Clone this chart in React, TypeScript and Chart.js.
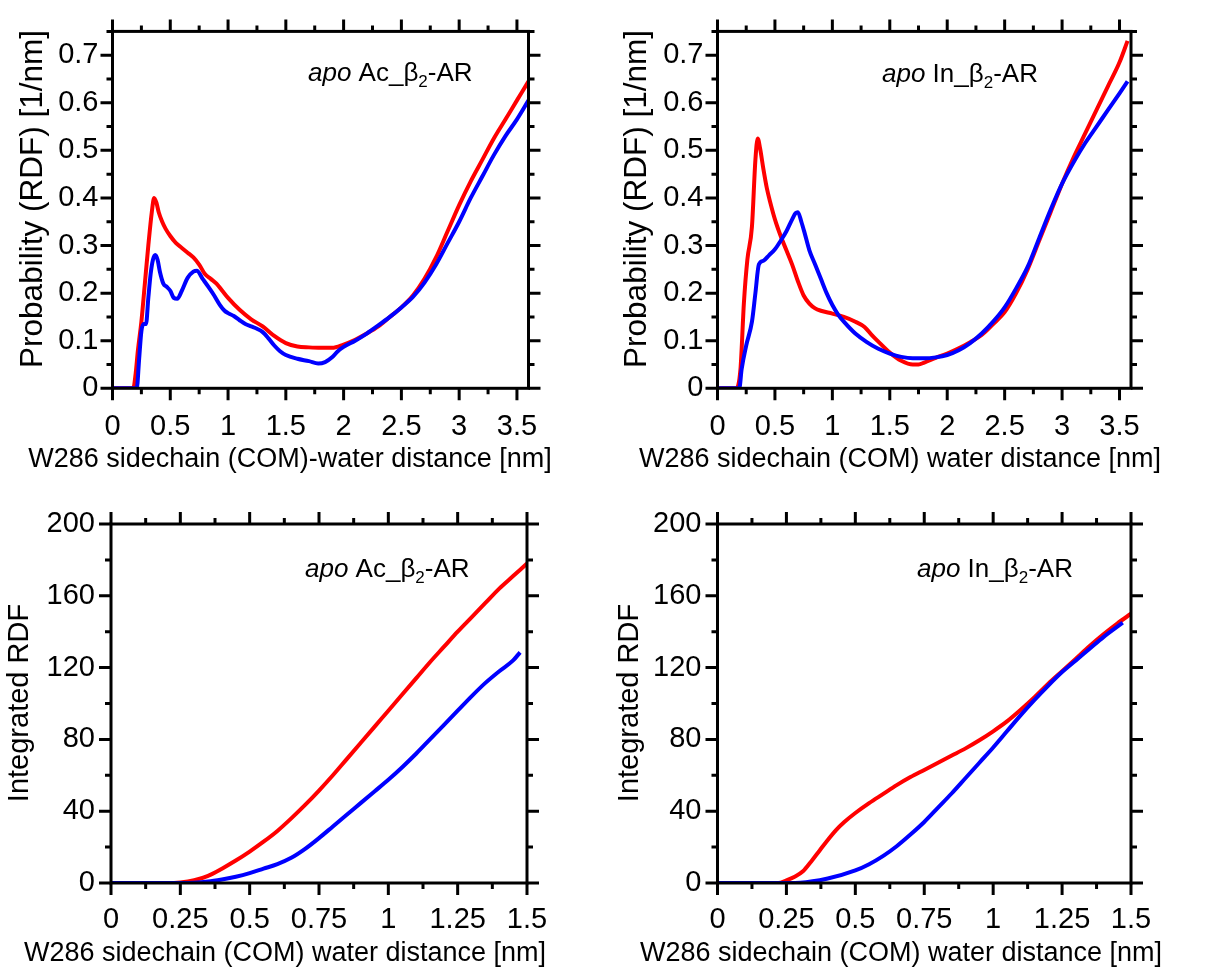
import React, { useEffect, useRef } from "react";
import { Chart, registerables } from "chart.js";

Chart.register(...registerables);

const FONT = "'Liberation Sans', Arial, Helvetica, sans-serif";

// ---------- tick values / labels ----------
const rdfXTicks = [0, 0.5, 1, 1.5, 2, 2.5, 3, 3.5];
const rdfXTickLabels = ["0", "0.5", "1", "1.5", "2", "2.5", "3", "3.5"];
const rdfXMinor = [0.25, 0.75, 1.25, 1.75, 2.25, 2.75, 3.25];
const rdfYTicks = [0, 0.1, 0.2, 0.3, 0.4, 0.5, 0.6, 0.7];
const rdfYTickLabels = ["0", "0.1", "0.2", "0.3", "0.4", "0.5", "0.6", "0.7"];
const rdfYMinor = [0.05, 0.15, 0.25, 0.35, 0.45, 0.55, 0.65, 0.75];

const intXTicks = [0, 0.25, 0.5, 0.75, 1, 1.25, 1.5];
const intXTickLabels = ["0", "0.25", "0.5", "0.75", "1", "1.25", "1.5"];
const intXMinor = [0.125, 0.375, 0.625, 0.875, 1.125, 1.375];
const intYTicks = [0, 40, 80, 120, 160, 200];
const intYTickLabels = ["0", "40", "80", "120", "160", "200"];
const intYMinor = [20, 60, 100, 140, 180];

// ---------- data: RDF, apo Ac_β2-AR ----------
const rdfAcRedX = [0, 0.1, 0.18, 0.2, 0.22, 0.25, 0.28, 0.31, 0.34, 0.36, 0.38, 0.4, 0.43, 0.46, 0.5, 0.55, 0.6, 0.65, 0.7, 0.75, 0.8, 0.85, 0.9, 0.95, 1.0, 1.1, 1.2, 1.3, 1.4, 1.5, 1.6, 1.7, 1.8, 1.9, 2.0, 2.1, 2.2, 2.3, 2.4, 2.5, 2.6, 2.7, 2.8, 2.9, 3.0, 3.1, 3.2, 3.3, 3.4, 3.5, 3.6];
const rdfAcRedY = [0, 0, 0, 0.03, 0.08, 0.14, 0.22, 0.3, 0.37, 0.4, 0.39, 0.37, 0.35, 0.335, 0.32, 0.305, 0.295, 0.285, 0.275, 0.26, 0.24, 0.23, 0.22, 0.205, 0.19, 0.165, 0.145, 0.13, 0.11, 0.095, 0.088, 0.086, 0.085, 0.085, 0.092, 0.102, 0.115, 0.13, 0.15, 0.17, 0.195, 0.23, 0.275, 0.33, 0.385, 0.435, 0.48, 0.525, 0.565, 0.605, 0.645];
const rdfAcBlueX = [0, 0.1, 0.21, 0.23, 0.25, 0.27, 0.29, 0.31, 0.33, 0.35, 0.37, 0.39, 0.41, 0.44, 0.47, 0.5, 0.53, 0.56, 0.6, 0.65, 0.7, 0.73, 0.78, 0.83, 0.88, 0.93, 0.97, 1.0, 1.05, 1.1, 1.15, 1.2, 1.25, 1.3, 1.35, 1.4, 1.45, 1.5, 1.6, 1.7, 1.78, 1.84, 1.9, 1.95, 2.0, 2.1, 2.2, 2.3, 2.4, 2.5, 2.6, 2.7, 2.8, 2.9, 3.0, 3.1, 3.2, 3.3, 3.4, 3.5, 3.6];
const rdfAcBlueY = [0, 0, 0, 0.06, 0.12, 0.135, 0.135, 0.19, 0.24, 0.27, 0.28, 0.27, 0.245, 0.22, 0.213, 0.205, 0.19, 0.188, 0.205, 0.232, 0.245, 0.247, 0.23, 0.213, 0.195, 0.175, 0.163, 0.158, 0.152, 0.143, 0.135, 0.13, 0.125, 0.118, 0.105, 0.09, 0.078, 0.07, 0.062, 0.057, 0.052, 0.055, 0.065, 0.078, 0.087, 0.1, 0.115, 0.132, 0.15, 0.17, 0.192, 0.222, 0.26, 0.305, 0.35, 0.4, 0.445, 0.49, 0.53, 0.565, 0.605];

// ---------- data: RDF, apo In_β2-AR ----------
const rdfInRedX = [0, 0.1, 0.16, 0.2, 0.23, 0.26, 0.3, 0.33, 0.35, 0.37, 0.4, 0.43, 0.46, 0.5, 0.55, 0.6, 0.65, 0.7, 0.75, 0.8, 0.85, 0.9, 1.0, 1.1, 1.2, 1.28, 1.35, 1.4, 1.5, 1.6, 1.7, 1.75, 1.8, 1.9, 2.0, 2.1, 2.2, 2.3, 2.4, 2.5, 2.6, 2.7, 2.8, 2.9, 3.0, 3.1, 3.2, 3.3, 3.4, 3.5, 3.57];
const rdfInRedY = [0, 0, 0, 0.04, 0.18, 0.27, 0.34, 0.48, 0.525, 0.505, 0.46, 0.42, 0.39, 0.355, 0.32, 0.29, 0.26, 0.225, 0.195, 0.178, 0.168, 0.163, 0.157, 0.15, 0.14, 0.129, 0.11, 0.098, 0.075, 0.058, 0.05, 0.05, 0.054, 0.064, 0.073, 0.084, 0.097, 0.112, 0.135, 0.16, 0.2, 0.25, 0.31, 0.37, 0.43, 0.485, 0.535, 0.585, 0.635, 0.685, 0.73];
const rdfInBlueX = [0, 0.1, 0.19, 0.21, 0.25, 0.3, 0.33, 0.36, 0.4, 0.45, 0.5, 0.55, 0.6, 0.65, 0.68, 0.7, 0.73, 0.76, 0.8, 0.85, 0.9, 0.95, 1.0, 1.05, 1.1, 1.2, 1.3, 1.4, 1.5, 1.6, 1.7, 1.8, 1.9, 2.0, 2.1, 2.2, 2.3, 2.4, 2.5, 2.6, 2.7, 2.8, 2.9, 3.0, 3.1, 3.2, 3.3, 3.4, 3.5, 3.57];
const rdfInBlueY = [0, 0, 0, 0.04, 0.09, 0.14, 0.2, 0.26, 0.268, 0.28, 0.292, 0.31, 0.33, 0.355, 0.368, 0.37, 0.35, 0.325, 0.29, 0.26, 0.23, 0.2, 0.175, 0.155, 0.14, 0.115, 0.097, 0.083, 0.073, 0.066, 0.063, 0.063, 0.065, 0.07, 0.08, 0.095, 0.115, 0.14, 0.17, 0.21, 0.255, 0.315, 0.375, 0.43, 0.475, 0.515, 0.55, 0.585, 0.62, 0.645];

// ---------- data: integrated RDF, apo Ac_β2-AR ----------
const intAcRedX = [0, 0.1, 0.2, 0.25, 0.3, 0.35, 0.4, 0.45, 0.5, 0.55, 0.6, 0.65, 0.7, 0.75, 0.8, 0.85, 0.9, 0.95, 1.0, 1.05, 1.1, 1.15, 1.2, 1.25, 1.3, 1.35, 1.4, 1.45, 1.5];
const intAcRedY = [0, 0, 0, 0.3, 1.5, 4, 8, 12.5, 17.5, 23, 29, 36, 43.5, 51.5, 60, 69, 78, 87, 96, 105, 114, 123, 131.5, 140, 148, 156, 164, 171, 178];
const intAcBlueX = [0, 0.1, 0.2, 0.3, 0.35, 0.4, 0.45, 0.5, 0.55, 0.6, 0.65, 0.7, 0.75, 0.8, 0.85, 0.9, 0.95, 1.0, 1.05, 1.1, 1.15, 1.2, 1.25, 1.3, 1.35, 1.4, 1.45, 1.475];
const intAcBlueY = [0, 0, 0, 0.2, 0.8, 2, 3.5, 5.5, 8, 10.5, 14, 19, 25, 31.5, 38, 44.5, 51, 57.5, 64.5, 72, 80, 88, 96, 104, 111.5, 118, 124, 128.5];

// ---------- data: integrated RDF, apo In_β2-AR ----------
const intInRedX = [0, 0.1, 0.22, 0.25, 0.28, 0.31, 0.34, 0.37, 0.4, 0.43, 0.46, 0.5, 0.55, 0.6, 0.65, 0.7, 0.75, 0.8, 0.85, 0.9, 0.95, 1.0, 1.05, 1.1, 1.15, 1.2, 1.25, 1.3, 1.35, 1.4, 1.45, 1.5];
const intInRedY = [0, 0, 0, 1.5, 3.5, 6.5, 12, 18, 24, 29.5, 34, 39, 44.5, 49.5, 54.5, 59, 63, 67, 71, 75, 79.5, 84.5, 90, 96.5, 103.5, 111, 118, 125, 132, 138.5, 144.5, 150];
const intInBlueX = [0, 0.1, 0.2, 0.3, 0.4, 0.5, 0.55, 0.6, 0.65, 0.7, 0.75, 0.8, 0.85, 0.9, 0.95, 1.0, 1.05, 1.1, 1.15, 1.2, 1.25, 1.3, 1.35, 1.4, 1.47];
const intInBlueY = [0, 0, 0, 0.2, 2.5, 7, 10.5, 15, 20.5, 27, 34, 42, 50, 58.5, 67, 75.5, 84.5, 93.5, 102, 110, 117.5, 124, 130.5, 137, 145];

const RED = "rgb(255,0,0)";
const BLUE = "rgb(0,0,255)";

type PanelSpec = {
  left: number;
  top: number;
  width: number;
  height: number;
  area: { l: number; r: number; t: number; b: number };
  xMax: number;
  yMax: number;
  xTicks: number[];
  xLabels: string[];
  xMinor: number[];
  yTicks: number[];
  yLabels: string[];
  yMinor: number[];
  xPad: number;
  yPad: number;
  xTitle: string;
  yTitle: string;
  xTitlePos: [number, number];
  yTitlePos: [number, number];
  yTitleSize: number;
  tag: string;
  tagPos: [number, number];
  red: [number[], number[]];
  blue: [number[], number[]];
};

const toPts = (xs: number[], ys: number[]) => xs.map((x, i) => ({ x, y: ys[i] }));

const framePlugin = {
  id: "frameTicks",
  afterDatasetsDraw(chart: any, _args: any, opts: any) {
    const { ctx, chartArea: a } = chart;
    const xs = chart.scales.x;
    const ys = chart.scales.y;
    ctx.save();
    ctx.strokeStyle = "#000";
    ctx.lineWidth = 3;
    ctx.lineCap = "butt";
    ctx.strokeRect(a.left, a.top, a.right - a.left, a.bottom - a.top);
    const drawX = (vals: number[], len: number) => {
      vals.forEach((v) => {
        const p = xs.getPixelForValue(v);
        ctx.beginPath();
        ctx.moveTo(p, a.bottom);
        ctx.lineTo(p, a.bottom + len);
        ctx.moveTo(p, a.top);
        ctx.lineTo(p, a.top - len);
        ctx.stroke();
      });
    };
    const drawY = (vals: number[], len: number) => {
      vals.forEach((v) => {
        const p = ys.getPixelForValue(v);
        ctx.beginPath();
        ctx.moveTo(a.left, p);
        ctx.lineTo(a.left - len, p);
        ctx.moveTo(a.right, p);
        ctx.lineTo(a.right + len, p);
        ctx.stroke();
      });
    };
    drawX(opts.xTicks, 12);
    drawX(opts.xMinor, 6);
    drawY(opts.yTicks, 12);
    drawY(opts.yMinor, 6);

    ctx.fillStyle = "#000";
    // x title
    ctx.font = `27px ${FONT}`;
    ctx.textAlign = "center";
    ctx.textBaseline = "alphabetic";
    ctx.fillText(opts.xTitle, opts.xTitlePos[0], opts.xTitlePos[1]);
    // y title
    ctx.save();
    ctx.translate(opts.yTitlePos[0], opts.yTitlePos[1]);
    ctx.rotate(-Math.PI / 2);
    ctx.font = `${opts.yTitleSize}px ${FONT}`;
    ctx.textAlign = "center";
    ctx.textBaseline = "middle";
    ctx.fillText(opts.yTitle, 0, 0);
    ctx.restore();

    // annotation: "apo Xx_β2-AR"
    let x = opts.tagPos[0];
    const y = opts.tagPos[1];
    ctx.textAlign = "left";
    ctx.textBaseline = "alphabetic";
    ctx.font = `italic 26px ${FONT}`;
    ctx.fillText("apo", x, y);
    x += ctx.measureText("apo ").width;
    ctx.font = `26px ${FONT}`;
    const s1 = `${opts.tag}_β`;
    ctx.fillText(s1, x, y);
    x += ctx.measureText(s1).width;
    ctx.font = `17px ${FONT}`;
    ctx.fillText("2", x, y + 6);
    x += ctx.measureText("2").width;
    ctx.font = `26px ${FONT}`;
    ctx.fillText("-AR", x, y);
    ctx.restore();
  },
};

function buildConfig(s: PanelSpec): any {
  const tickFont = { family: FONT, size: 29 };
  return {
    type: "scatter",
    data: {
      datasets: [
        {
          data: toPts(s.blue[0], s.blue[1]),
          borderColor: BLUE,
          borderWidth: 4,
          showLine: true,
          pointRadius: 0,
          cubicInterpolationMode: "monotone",
          order: 0,
        },
        {
          data: toPts(s.red[0], s.red[1]),
          borderColor: RED,
          borderWidth: 4,
          showLine: true,
          pointRadius: 0,
          cubicInterpolationMode: "monotone",
          order: 1,
        },
      ],
    },
    options: {
      responsive: false,
      animation: false,
      devicePixelRatio: 1,
      layout: {
        padding: { left: 0, top: s.area.t, right: s.width - s.area.r, bottom: 0 },
      },
      plugins: {
        legend: { display: false },
        tooltip: { enabled: false },
        frameTicks: {
          xTicks: s.xTicks,
          xMinor: s.xMinor,
          yTicks: s.yTicks,
          yMinor: s.yMinor,
          xTitle: s.xTitle,
          yTitle: s.yTitle,
          xTitlePos: s.xTitlePos,
          yTitlePos: s.yTitlePos,
          yTitleSize: s.yTitleSize,
          tag: s.tag,
          tagPos: s.tagPos,
        },
      },
      scales: {
        x: {
          type: "linear",
          min: 0,
          max: s.xMax,
          grid: { display: false, drawTicks: false },
          border: { display: false },
          afterBuildTicks: (sc: any) => {
            sc.ticks = s.xTicks.map((v) => ({ value: v }));
          },
          afterFit: (sc: any) => {
            sc.height = s.height - s.area.b;
          },
          ticks: {
            autoSkip: false,
            maxRotation: 0,
            minRotation: 0,
            color: "#000",
            font: tickFont,
            padding: s.xPad,
            callback: (_v: any, i: number) => s.xLabels[i],
          },
        },
        y: {
          type: "linear",
          min: 0,
          max: s.yMax,
          grid: { display: false, drawTicks: false },
          border: { display: false },
          afterBuildTicks: (sc: any) => {
            sc.ticks = s.yTicks.map((v) => ({ value: v }));
          },
          afterFit: (sc: any) => {
            sc.width = s.area.l;
          },
          ticks: {
            autoSkip: false,
            color: "#000",
            font: tickFont,
            padding: s.yPad,
            callback: (_v: any, i: number) => s.yLabels[i],
          },
        },
      },
    },
    plugins: [framePlugin],
  };
}

const rdfTitleY = "Probability (RDF) [1/nm]";
const intTitleY = "Integrated RDF";

const panels: PanelSpec[] = [
  {
    left: 0, top: 0, width: 610, height: 483,
    area: { l: 112.5, r: 528.5, t: 29.3, b: 388.3 },
    xMax: 3.6, yMax: 0.75,
    xTicks: rdfXTicks, xLabels: rdfXTickLabels, xMinor: rdfXMinor,
    yTicks: rdfYTicks, yLabels: rdfYTickLabels, yMinor: rdfYMinor,
    xPad: 21, yPad: 14,
    xTitle: "W286 sidechain (COM)-water distance [nm]",
    yTitle: rdfTitleY, xTitlePos: [290, 467], yTitlePos: [33, 199], yTitleSize: 31.5,
    tag: "Ac", tagPos: [308, 81],
    red: [rdfAcRedX, rdfAcRedY], blue: [rdfAcBlueX, rdfAcBlueY],
  },
  {
    left: 605, top: 0, width: 616, height: 483,
    area: { l: 112.5, r: 526, t: 29.3, b: 388.3 },
    xMax: 3.6, yMax: 0.75,
    xTicks: rdfXTicks, xLabels: rdfXTickLabels, xMinor: rdfXMinor,
    yTicks: rdfYTicks, yLabels: rdfYTickLabels, yMinor: rdfYMinor,
    xPad: 21, yPad: 14,
    xTitle: "W286 sidechain (COM) water distance [nm]",
    yTitle: rdfTitleY, xTitlePos: [295, 467], yTitlePos: [32, 199], yTitleSize: 31.5,
    tag: "In", tagPos: [277, 82],
    red: [rdfInRedX, rdfInRedY], blue: [rdfInBlueX, rdfInBlueY],
  },
  {
    left: 0, top: 483, width: 610, height: 484,
    area: { l: 111, r: 527, t: 41, b: 400 },
    xMax: 1.5, yMax: 200,
    xTicks: intXTicks, xLabels: intXTickLabels, xMinor: intXMinor,
    yTicks: intYTicks, yLabels: intYTickLabels, yMinor: intYMinor,
    xPad: 20, yPad: 16,
    xTitle: "W286 sidechain (COM) water distance [nm]",
    yTitle: intTitleY, xTitlePos: [285, 478], yTitlePos: [20, 220], yTitleSize: 29,
    tag: "Ac", tagPos: [305, 94],
    red: [intAcRedX, intAcRedY], blue: [intAcBlueX, intAcBlueY],
  },
  {
    left: 605, top: 483, width: 616, height: 484,
    area: { l: 112.5, r: 526, t: 41, b: 400 },
    xMax: 1.5, yMax: 200,
    xTicks: intXTicks, xLabels: intXTickLabels, xMinor: intXMinor,
    yTicks: intYTicks, yLabels: intYTickLabels, yMinor: intYMinor,
    xPad: 20, yPad: 16,
    xTitle: "W286 sidechain (COM) water distance [nm]",
    yTitle: intTitleY, xTitlePos: [296, 478], yTitlePos: [25, 220], yTitleSize: 29,
    tag: "In", tagPos: [312, 94],
    red: [intInRedX, intInRedY], blue: [intInBlueX, intInBlueY],
  },
];

function Panel({ spec }: { spec: PanelSpec }) {
  const ref = useRef<HTMLCanvasElement>(null);
  useEffect(() => {
    if (!ref.current) return;
    const chart = new Chart(ref.current, buildConfig(spec));
    return () => chart.destroy();
  }, [spec]);
  return (
    <canvas
      ref={ref}
      width={spec.width}
      height={spec.height}
      style={{
        position: "absolute",
        left: spec.left,
        top: spec.top,
        width: spec.width,
        height: spec.height,
      }}
    />
  );
}

export default function App() {
  return (
    <div
      style={{
        position: "absolute",
        left: 0,
        top: 0,
        width: 1221,
        height: 967,
        background: "#fff",
        overflow: "hidden",
      }}
    >
      {panels.map((p, i) => (
        <Panel key={i} spec={p} />
      ))}
    </div>
  );
}
